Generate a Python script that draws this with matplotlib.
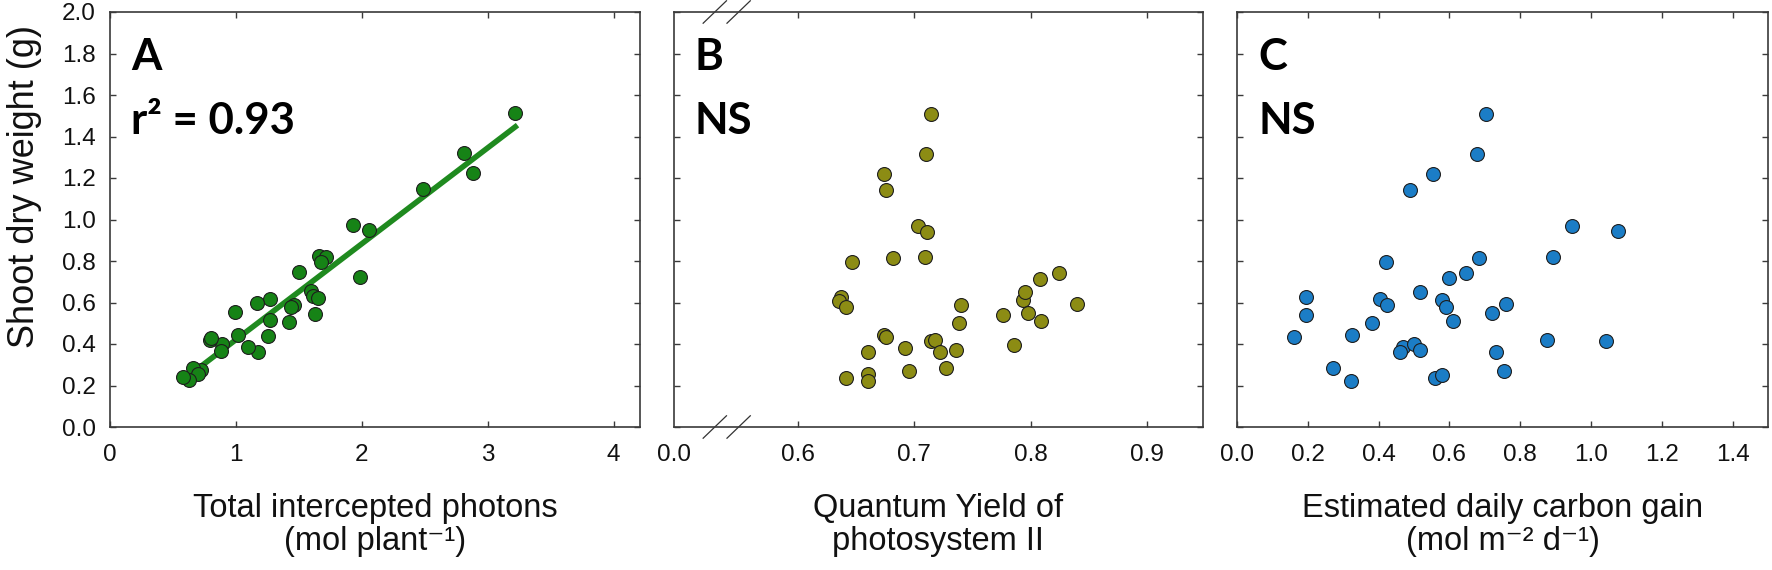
import numpy as np
import matplotlib
matplotlib.use("Agg")
import matplotlib.pyplot as plt

plt.rcParams['font.family'] = ['Liberation Sans', 'DejaVu Sans']

# ---------------- data ----------------
A_x = [3.217, 2.812, 2.886, 2.483, 1.927, 2.055, 1.986, 1.663, 1.716, 1.676, 1.504, 1.595,
       1.610, 1.655, 1.461, 1.440, 1.628, 1.424, 1.271, 1.271, 1.170, 1.255, 1.178, 1.097,
       1.020, 0.990, 0.892, 0.882, 0.797, 0.805, 0.723, 0.662, 0.696, 0.627, 0.582]
A_y = [1.512, 1.322, 1.222, 1.145, 0.973, 0.949, 0.721, 0.824, 0.818, 0.797, 0.745, 0.655,
       0.630, 0.620, 0.588, 0.580, 0.543, 0.508, 0.615, 0.516, 0.596, 0.440, 0.363, 0.386,
       0.445, 0.553, 0.402, 0.365, 0.419, 0.430, 0.275, 0.285, 0.255, 0.227, 0.239]

B_x = [0.714, 0.710, 0.674, 0.676, 0.703, 0.711, 0.682, 0.709, 0.646, 0.637, 0.635, 0.641,
       0.740, 0.738, 0.674, 0.676, 0.660, 0.692, 0.714, 0.718, 0.722, 0.736, 0.727, 0.695,
       0.641, 0.660, 0.660, 0.776, 0.786, 0.793, 0.795, 0.798, 0.808, 0.809, 0.824, 0.840]
B_y = [1.507, 1.317, 1.219, 1.142, 0.969, 0.941, 0.816, 0.819, 0.794, 0.628, 0.607, 0.578,
       0.588, 0.503, 0.445, 0.432, 0.360, 0.381, 0.414, 0.419, 0.360, 0.373, 0.284, 0.271,
       0.234, 0.255, 0.223, 0.538, 0.397, 0.612, 0.651, 0.548, 0.715, 0.512, 0.742, 0.593]

C_x = [0.703, 0.679, 0.555, 0.488, 0.947, 1.076, 0.893, 0.422, 0.683, 0.647, 0.598, 0.517,
       0.196, 0.196, 0.405, 0.424, 0.579, 0.589, 0.761, 0.720, 0.609, 0.382, 0.160, 0.325,
       0.875, 1.043, 0.470, 0.501, 0.461, 0.517, 0.731, 0.272, 0.321, 0.559, 0.579, 0.753]
C_y = [1.507, 1.317, 1.219, 1.142, 0.970, 0.944, 0.818, 0.797, 0.816, 0.741, 0.717, 0.652,
       0.625, 0.538, 0.615, 0.588, 0.612, 0.577, 0.593, 0.548, 0.512, 0.503, 0.435, 0.443,
       0.419, 0.414, 0.387, 0.400, 0.360, 0.371, 0.360, 0.283, 0.223, 0.235, 0.251, 0.271]

Y_TICKS = [0.0, 0.2, 0.4, 0.6, 0.8, 1.0, 1.2, 1.4, 1.6, 1.8, 2.0]
A_XTICKS = [0, 1, 2, 3, 4]
B_XTICKS = [0.6, 0.7, 0.8, 0.9]
B_BREAK_LABEL = "0.0"
C_XTICKS = [0.0, 0.2, 0.4, 0.6, 0.8, 1.0, 1.2, 1.4]

A_label = "Total intercepted photons\n(mol plant\u207b\u00b9)"
B_label = "Quantum Yield of\nphotosystem II"
C_label = "Estimated daily carbon gain\n(mol m\u207b\u00b2 d\u207b\u00b9)"
Y_label = "Shoot dry weight (g)"
A_stat = "r\u00b2 = 0.93"
NS = "NS"

# ---------------- figure ----------------
W, H = 1772, 570
fig = plt.figure(figsize=(W / 100, H / 100), dpi=100)

bottom = 1 - 427 / H
height = (427 - 12) / H
axA = fig.add_axes([110 / W, bottom, 530 / W, height])
axB = fig.add_axes([673.5 / W, bottom, 529.5 / W, height])
axC = fig.add_axes([1237 / W, bottom, 531 / W, height])

spine_col = '#3a3a3a'
for ax in (axA, axB, axC):
    for s in ax.spines.values():
        s.set_color(spine_col)
        s.set_linewidth(1.2)
    ax.tick_params(direction='in', length=4, width=1, color=spine_col,
                   top=True, right=True, labelsize=17.5, labelcolor='#111111')
    ax.tick_params(axis='x', pad=12)
    ax.tick_params(axis='y', pad=10)
    ax.set_ylim(0, 2.0)
    ax.set_yticks(Y_TICKS)

axA.set_yticklabels([f"{v:.1f}" for v in Y_TICKS])
axB.set_yticklabels([])
axC.set_yticklabels([])

ms = 100
ec = '#1e1e1e'

# Panel A
axA.set_xlim(0, 4.21)
axA.set_xticks(A_XTICKS)
axA.set_xticklabels([str(v) for v in A_XTICKS])
ax_ = np.array(A_x)
ay_ = np.array(A_y)
slope, icpt = np.polyfit(ax_, ay_, 1)
xl = np.array([ax_.min() + 0.08, ax_.max() + 0.02])
axA.plot(xl, slope * xl + icpt, color='#1f8a1f', lw=4, solid_capstyle='butt', zorder=2)
axA.scatter(A_x, A_y, s=ms, c='#168316', edgecolors=ec, linewidths=0.8, zorder=3)

# Panel B (broken axis)
b_lo, b_hi = 0.493, 0.948
axB.set_xlim(b_lo, b_hi)
axB.set_xticks([b_lo] + B_XTICKS)
axB.set_xticklabels([B_BREAK_LABEL] + [f"{v:.1f}" for v in B_XTICKS])
axB.xaxis.get_major_ticks()[0].tick1line.set_visible(False)
axB.xaxis.get_major_ticks()[0].tick2line.set_visible(False)
axB.scatter(B_x, B_y, s=ms, c='#8c8c14', edgecolors=ec, linewidths=0.8, zorder=3)
for xc in (0.078, 0.123):
    for yc in (0.0, 1.0):
        axB.plot([xc - 0.022, xc + 0.022], [yc - 0.027, yc + 0.027],
                 transform=axB.transAxes, color='#333333', lw=0.9, clip_on=False)

# Panel C
axC.set_xlim(0, 1.5)
axC.set_xticks(C_XTICKS)
axC.set_xticklabels([f"{v:.1f}" for v in C_XTICKS])
axC.scatter(C_x, C_y, s=ms, c='#1b7dc6', edgecolors=ec, linewidths=0.8, zorder=3)

# panel annotations
lab_font = dict(family=['Lato', 'DejaVu Sans'], fontweight='bold', fontsize=31.5, color='black')
for ax, letter, stat in ((axA, 'A', A_stat), (axB, 'B', NS), (axC, 'C', NS)):
    ax.text(0.04, 0.86, letter, transform=ax.transAxes, va='baseline', ha='left', **lab_font)
    ax.text(0.04, 0.707, stat, transform=ax.transAxes, va='baseline', ha='left', **lab_font)

# axis labels
for ax, lab in ((axA, A_label), (axB, B_label), (axC, C_label)):
    bb = ax.get_position()
    xc = bb.x0 + bb.width / 2
    fig.text(xc, 1 - 525 / H, lab, ha='center', va='center', fontsize=23.5,
             linespacing=1.05, color='#111111')

fig.text(25 / W, 1 - 186 / H, Y_label, rotation=90, ha='center', va='center',
         fontsize=26, color='#111111')

fig.savefig('out.png', dpi=100, facecolor='white')
